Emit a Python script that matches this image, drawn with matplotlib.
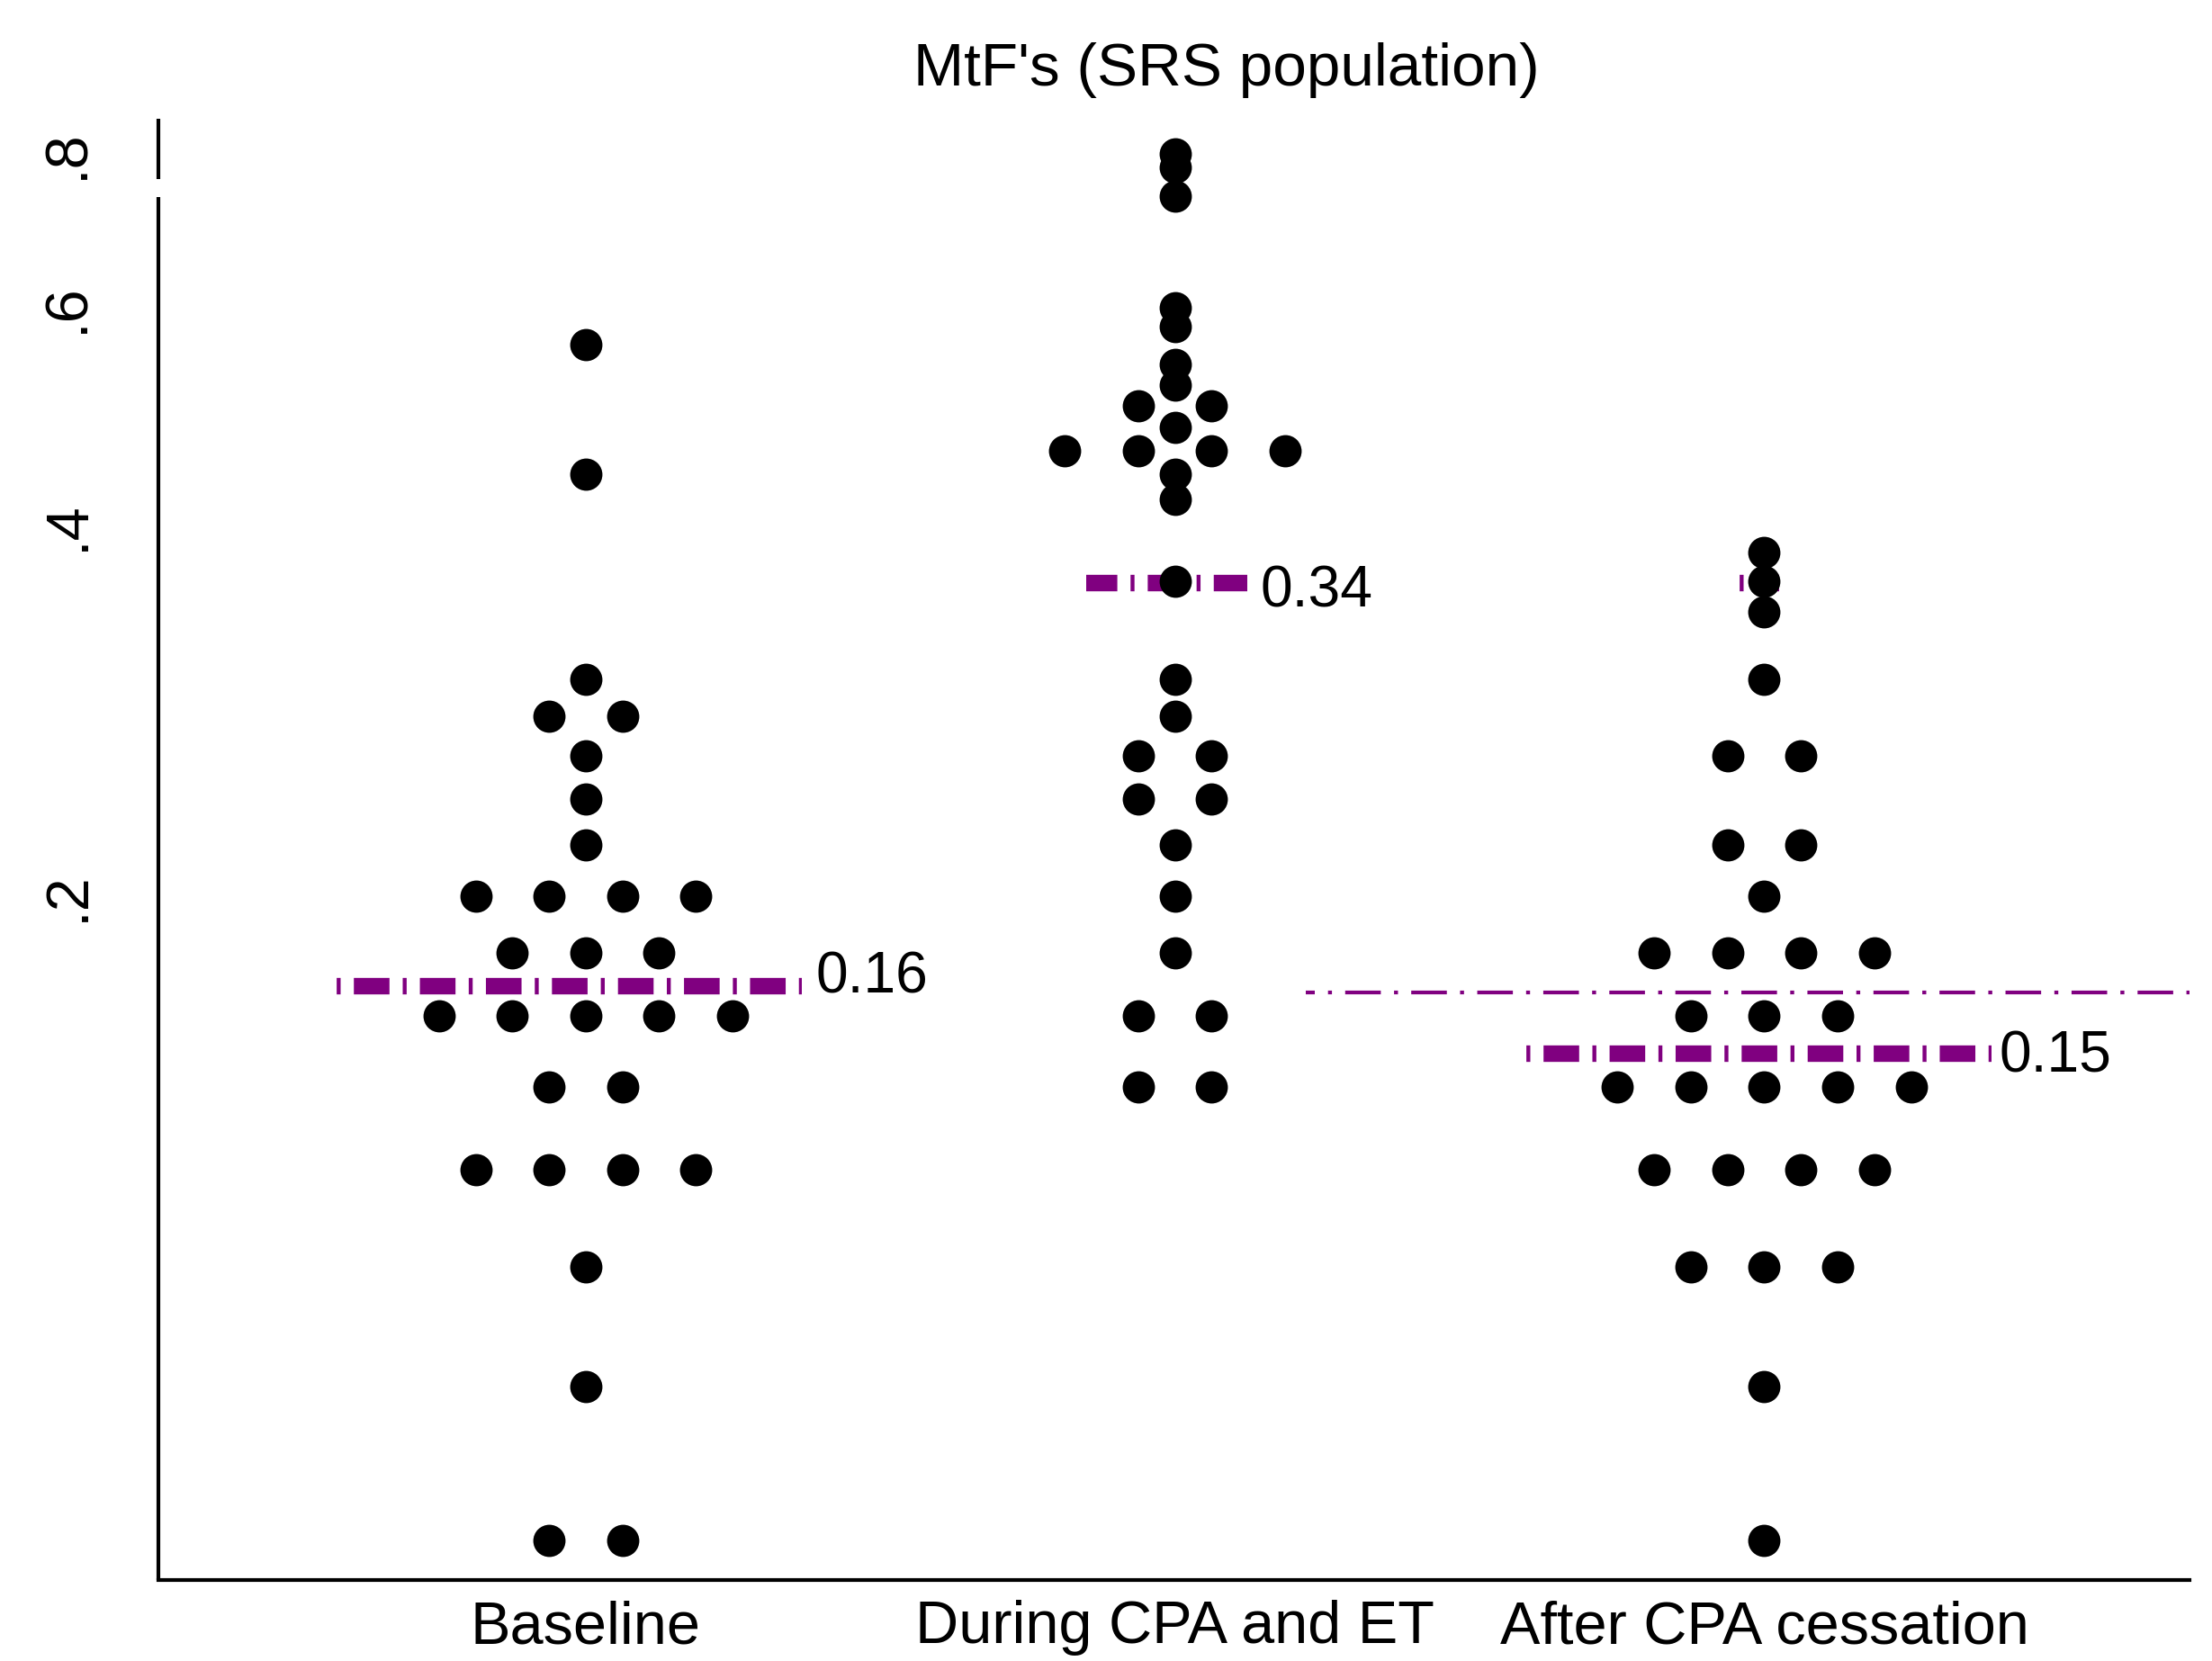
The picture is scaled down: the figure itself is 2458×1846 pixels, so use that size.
import numpy as np
import matplotlib
matplotlib.use('Agg')
import matplotlib.pyplot as plt
from matplotlib.ticker import NullLocator

plt.rcParams['font.family'] = ['Liberation Sans', 'DejaVu Sans']
plt.rcParams['lines.scale_dashes'] = False

# data (log y scale)
groups = ["Baseline", "During CPA and ET", "After CPA cessation"]

baseline = [0.56, 0.44, 0.30, 0.28, 0.28, 0.26, 0.24, 0.22,
            0.20, 0.20, 0.20, 0.20, 0.18, 0.18, 0.18,
            0.16, 0.16, 0.16, 0.16, 0.16, 0.14, 0.14,
            0.12, 0.12, 0.12, 0.12, 0.10, 0.08, 0.06, 0.06]
during = [0.80, 0.78, 0.74, 0.60, 0.58, 0.54, 0.52, 0.50, 0.50, 0.48,
          0.46, 0.46, 0.46, 0.46, 0.44, 0.42, 0.36, 0.30, 0.28,
          0.26, 0.26, 0.24, 0.24, 0.22, 0.20, 0.18,
          0.16, 0.16, 0.14, 0.14]
after = [0.38, 0.36, 0.34, 0.30, 0.26, 0.26, 0.22, 0.22, 0.20,
         0.18, 0.18, 0.18, 0.18, 0.16, 0.16, 0.16,
         0.14, 0.14, 0.14, 0.14, 0.14, 0.12, 0.12, 0.12, 0.12,
         0.10, 0.10, 0.10, 0.08, 0.06]
group_values = [baseline, during, after]

# median lines per group: y, x start, x end (data units), label
med_y = [0.169, 0.359, 0.149]
med_x0 = [0.578, 1.8495, 2.5966]
med_x1 = [1.367, 2.1225, 3.3853]
med_labels = ["0.16", "0.34", "0.15"]

# line hidden behind the dots of the last group
hidden_y = 0.359
hidden_x = [2.9575, 3.025]

# thin overall reference line
ref_y = 0.167
ref_x0 = 2.2214

ytick_vals = [0.2, 0.4, 0.6, 0.8]
ytick_labels = ['.2', '.4', '.6', '.8']

PURPLE = '#800080'
DASH = (9.5, 3.53, 1.05, 3.53)

W, H = 2458, 1846
fig = plt.figure(figsize=(W / 300, H / 300), dpi=300)
ax = fig.add_axes([176 / W, 1 - 1756 / H, (2433 - 176) / W, (1756 - 131.7) / H])
ax.set_yscale('log')
ylim = (0.05576, 0.855)
xlim = (0.2749, 3.7216)
ax.set_ylim(*ylim)
ax.set_xlim(*xlim)

# dots, stacked side by side when values tie
step = 0.1245
for gi, vals in enumerate(group_values):
    uniq, counts = np.unique(vals, return_counts=True)
    xs, ys = [], []
    for v, n in zip(uniq, counts):
        xs.extend(gi + 1 + (np.arange(n) - (n - 1) / 2) * step)
        ys.extend([v] * n)
    ax.scatter(xs, ys, s=8.6 ** 2, color='black', linewidths=0, zorder=3)

# median lines
offsets = [13.0, 1.2, 13.0]
label_dx = [3.6, 3.5, 2.0]
label_dy = [-1.8, -6.4, -4.8]
for i in range(3):
    ax.plot([med_x0[i], med_x1[i]], [med_y[i], med_y[i]], color=PURPLE,
            lw=4.4, linestyle=(offsets[i], DASH), zorder=2)
    ax.annotate(med_labels[i], xy=(med_x1[i], med_y[i]),
                xytext=(label_dx[i], label_dy[i]), textcoords='offset points',
                ha='left', va='baseline', fontsize=15.4, color='black')

ax.plot(hidden_x, [hidden_y, hidden_y], color=PURPLE, lw=4.4,
        linestyle=(13.0, DASH), zorder=2)
ax.plot([ref_x0, xlim[1]], [ref_y, ref_y], color=PURPLE, lw=1.0,
        linestyle=(7.1, DASH), zorder=2, clip_on=False)

# axes
for side in ['top', 'right', 'left']:
    ax.spines[side].set_visible(False)
ax.spines['bottom'].set_linewidth(1.0)
ax.spines['bottom'].set_color('black')

# y axis drawn in two pieces (gap near .75)
ytr = ax.get_yaxis_transform()
ax.plot([0, 0], [ylim[0], 0.738], transform=ytr, color='black', lw=1.0,
        clip_on=False, solid_capstyle='butt')
ax.plot([0, 0], [0.763, ylim[1]], transform=ytr, color='black', lw=1.0,
        clip_on=False, solid_capstyle='butt')

ax.set_yticks(ytick_vals, ytick_labels)
ax.yaxis.set_minor_locator(NullLocator())
ax.tick_params(axis='y', length=0, pad=16.6, labelsize=16, labelrotation=90)
for lab in ax.get_yticklabels():
    lab.set_va('center')

ax.set_xticks([1, 2, 3], groups)
ax.tick_params(axis='x', length=0, pad=5.3, labelsize=16)

fig.text(1363 / W, 1 - 95 / H, "MtF's (SRS population)", ha='center',
         va='baseline', fontsize=16.2)

fig.savefig('out.png', dpi=300, facecolor='white')
